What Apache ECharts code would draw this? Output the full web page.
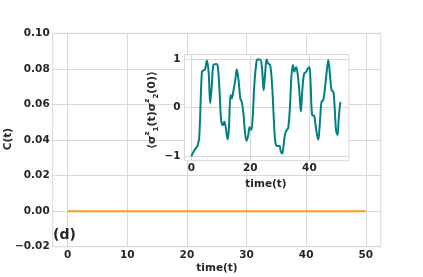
<!DOCTYPE html>
<html><head><meta charset="utf-8">
<script src="https://cdn.jsdelivr.net/npm/echarts@6/dist/echarts.min.js"></script>
<style>html,body{margin:0;padding:0;background:#fff}#c{width:423px;height:277px}</style>
</head><body><div id="c"></div>
<script>
// Main panel data: C(t)
var mainTime = [0, 10, 20, 30, 40, 50];
var mainC = [0, 0, 0, 0, 0, 0];
var mainXTicks = [0, 10, 20, 30, 40, 50];

// Inset data: <sigma1z(t) sigma2z(0)>
var insetTime = [0, 0.8, 1.7, 2.1, 2.7, 3.6, 4.2, 4.7, 5.3, 5.9, 6.4, 7.0, 7.5, 8.5, 9.0, 9.6, 10.1, 10.7, 11.2, 11.7, 12.3, 12.7, 13.3, 13.7, 14.3, 14.9, 15.4, 16.0, 16.6, 17.1, 17.7, 18.1, 18.7, 19.3, 19.7, 20.3, 20.8, 21.3, 22.0, 22.4, 23.3, 23.9, 24.5, 25.0, 25.5, 26.0, 26.7, 27.4, 27.9, 28.5, 29.2, 29.9, 30.3, 30.8, 31.2, 31.7, 32.2, 32.8, 33.4, 33.9, 34.4, 34.9, 35.5, 36.0, 36.6, 37.1, 37.6, 38.2, 38.9, 39.5, 40.0, 40.4, 40.9, 41.6, 42.0, 42.5, 43.0, 43.6, 44.1, 44.7, 45.3, 45.9, 46.4, 47.0, 47.5, 48.1, 48.6, 49.0, 49.5, 49.9, 50.4, 50.7];
var insetCorr = [-1.0, -0.9, -0.82, -0.79, -0.6, 0.74, 0.77, 0.8, 0.97, 0.7, 0.09, 0.5, 0.88, 0.9, 0.84, 0.3, -0.25, -0.36, -0.29, -0.42, -0.65, -0.46, 0.26, 0.19, 0.36, 0.57, 0.79, 0.57, 0.19, 0.12, -0.15, -0.46, -0.68, -0.56, -0.4, -0.46, -0.18, 0.43, 0.91, 0.99, 0.99, 0.84, 0.36, 0.7, 0.99, 0.91, 0.88, 0.43, -0.18, -0.73, -0.79, -0.79, -0.9, -0.94, -0.8, -0.56, -0.47, -0.42, 0.02, 0.64, 0.88, 0.74, 0.84, 0.7, 0.33, -0.08, 0.36, 0.7, 0.74, 0.81, 0.84, 0.5, -0.15, -0.17, -0.32, -0.53, -0.66, -0.25, 0.12, 0.16, 0.43, 0.77, 0.98, 0.64, 0.36, 0.33, -0.05, -0.46, -0.56, -0.25, 0.09, 0.11];
var insetXTicks = [0, 20, 40];
var insetYTicks = [-1, 0, 1];

var FONT = 'DejaVu Sans';
var TXT = '#262626';
var GRIDC = '#d9d9d9';
function fmtMinus(v, d) {
  var s = Math.abs(v).toFixed(d);
  return v < -1e-9 ? '\u2212' + s : s;
}
var labelStyle = {fontFamily: FONT, fontWeight: 'bold', fontSize: 10.5, color: TXT};

var chart = echarts.init(document.getElementById('c'), null, {renderer: 'canvas'});
var pairsMain = mainTime.map(function (t, i) { return [t, mainC[i]]; });
var pairsInset = insetTime.map(function (t, i) { return [t, insetCorr[i]]; });

chart.setOption({
  animation: false,
  backgroundColor: '#fff',
  grid: [
    {left: 52.7, top: 33.3, width: 328, height: 213.4, show: true, borderColor: GRIDC, borderWidth: 1, backgroundColor: 'transparent', z: 2},
    {left: 184.5, top: 54.5, width: 164.5, height: 106.2, show: true, borderColor: GRIDC, borderWidth: 1, backgroundColor: '#fff', z: 3}
  ],
  xAxis: [
    {gridIndex: 0, type: 'value', min: -2.5, max: 52.5,
     axisLine: {show: false}, axisTick: {show: false, customValues: mainXTicks},
     axisLabel: Object.assign({customValues: mainXTicks, margin: 3}, labelStyle),
     splitLine: {show: true, lineStyle: {color: GRIDC, width: 1}}, z: 0},
    {gridIndex: 1, type: 'value', min: -2.3, max: 53.4,
     axisLine: {show: false}, axisTick: {show: false, customValues: insetXTicks},
     axisLabel: Object.assign({customValues: insetXTicks, margin: 2}, labelStyle),
     splitLine: {show: true, lineStyle: {color: GRIDC, width: 1}}, z: 4}
  ],
  yAxis: [
    {gridIndex: 0, type: 'value', min: -0.02, max: 0.10, interval: 0.02,
     axisLine: {show: false}, axisTick: {show: false},
     axisLabel: Object.assign({margin: 3, formatter: function (v) { return fmtMinus(v, 2); }}, labelStyle),
     splitLine: {show: true, lineStyle: {color: GRIDC, width: 1}}, z: 0},
    {gridIndex: 1, type: 'value', min: -1.09, max: 1.095,
     axisLine: {show: false}, axisTick: {show: false, customValues: insetYTicks},
     axisLabel: Object.assign({customValues: insetYTicks, margin: 4, formatter: function (v) { return fmtMinus(v, 0); }}, labelStyle),
     splitLine: {show: true, lineStyle: {color: GRIDC, width: 1}}, z: 4}
  ],
  series: [
    {type: 'line', xAxisIndex: 0, yAxisIndex: 0, data: pairsMain, showSymbol: false,
     lineStyle: {color: '#fd9926', width: 2}, z: 2},
    {type: 'line', xAxisIndex: 1, yAxisIndex: 1, data: pairsInset, showSymbol: false, smooth: 0.35,
     lineStyle: {color: '#008080', width: 2}, z: 5}
  ],
  graphic: [
    {type: 'text', x: 8, y: 139, rotation: Math.PI / 2, z: 10,
     style: {text: 'C(t)', fontFamily: FONT, fontWeight: 'bold', fontSize: 10.5, fill: TXT, align: 'center', verticalAlign: 'middle'}},
    {type: 'text', x: 217, y: 268, z: 10,
     style: {text: 'time(t)', fontFamily: FONT, fontWeight: 'bold', fontSize: 10.5, fill: TXT, align: 'center', verticalAlign: 'middle'}},
    {type: 'text', x: 266, y: 184, z: 10,
     style: {text: 'time(t)', fontFamily: FONT, fontWeight: 'bold', fontSize: 10.5, fill: TXT, align: 'center', verticalAlign: 'middle'}},
    {type: 'text', x: 53, y: 235, z: 10,
     style: {text: '(d)', fontFamily: FONT, fontWeight: 'bold', fontSize: 14, fill: TXT, align: 'left', verticalAlign: 'middle'}},
    {type: 'text', x: 152, y: 110, rotation: Math.PI / 2, z: 10,
     style: {
       text: '{n|\u27E8\u03C3}{sup|z}{sub|1}{n|(t)\u03C3}{sup|z}{sub|2}{n|(0)\u27E9}',
       align: 'center', verticalAlign: 'middle',
       rich: {
         n: {fontFamily: FONT, fontWeight: 'bold', fontSize: 11, fill: TXT, lineHeight: 16, verticalAlign: 'middle'},
         sup: {fontFamily: FONT, fontWeight: 'bold', fontSize: 7, fill: TXT, lineHeight: 16, verticalAlign: 'top'},
         sub: {fontFamily: FONT, fontWeight: 'bold', fontSize: 7, fill: TXT, lineHeight: 16, verticalAlign: 'bottom'}
       }
     }}
  ]
});
</script></body></html>
